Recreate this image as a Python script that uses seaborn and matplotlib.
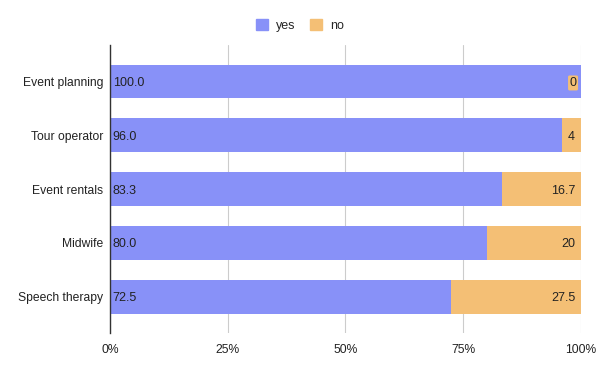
import numpy as np
import pandas as pd
import matplotlib.pyplot as plt
import seaborn as sns
from matplotlib.patches import Patch

categories = ["Event planning", "Tour operator", "Event rentals", "Midwife", "Speech therapy"]
yes = [100.0, 96.0, 83.3, 80.0, 72.5]
no = [0, 4, 16.7, 20, 27.5]
no_labels = ["0", "4", "16.7", "20", "27.5"]

yes_color = "#8891f8"
no_color = "#f4bf75"

sns.set_style("white")
plt.rcParams["font.family"] = ["Liberation Sans", "DejaVu Sans"]

df = pd.DataFrame({"category": categories, "yes": yes, "no": no})
df["total"] = df["yes"] + df["no"]

fig = plt.figure(figsize=(6, 3.71), dpi=100)
ax = fig.add_axes([0.183, 0.102, 0.785, 0.777])

sns.barplot(data=df, y="category", x="total", color=no_color, width=0.63,
            saturation=1, linewidth=0, ax=ax, zorder=3)
sns.barplot(data=df, y="category", x="yes", color=yes_color, width=0.63,
            saturation=1, linewidth=0, ax=ax, zorder=3)

for i, (y, n, lab) in enumerate(zip(yes, no, no_labels)):
    ax.text(0.6, i, f"{y:.1f}", va="center_baseline", ha="left", fontsize=9,
            color="#222222", zorder=4)
    if n == 0:
        ax.text(99.1, i, lab, va="center_baseline", ha="right", fontsize=9, color="#222222",
                zorder=4, bbox=dict(boxstyle="round,pad=0.12", fc=no_color, ec="none"))
    else:
        ax.text(98.8, i, lab, va="center_baseline", ha="right", fontsize=9,
                color="#222222", zorder=4)

ax.set_xlim(0, 100)
ax.set_ylim(4.68, -0.68)
ax.set_xticks([0, 25, 50, 75, 100])
ax.set_xticklabels(["0%", "25%", "50%", "75%", "100%"])
ax.xaxis.grid(True, color="#cccccc", linewidth=0.8, zorder=0)
ax.set_xlabel("")
ax.set_ylabel("")
ax.tick_params(axis="both", length=0, labelsize=8.7, labelcolor="#222222")
ax.tick_params(axis="x", pad=8)
ax.tick_params(axis="y", pad=4.5)
for s in ["top", "right", "bottom"]:
    ax.spines[s].set_visible(False)
ax.spines["left"].set_color("#333333")
ax.spines["left"].set_linewidth(1)
ax.spines["left"].set_zorder(5)

handles = [Patch(color=yes_color, label="yes"), Patch(color=no_color, label="no")]
fig.legend(handles=handles, loc="upper center", bbox_to_anchor=(0.5, 0.978), ncol=2,
           frameon=False, fontsize=9, handlelength=0.95, handleheight=0.95,
           columnspacing=1.2, handletextpad=0.6)

fig.savefig("out.png", dpi=100)
